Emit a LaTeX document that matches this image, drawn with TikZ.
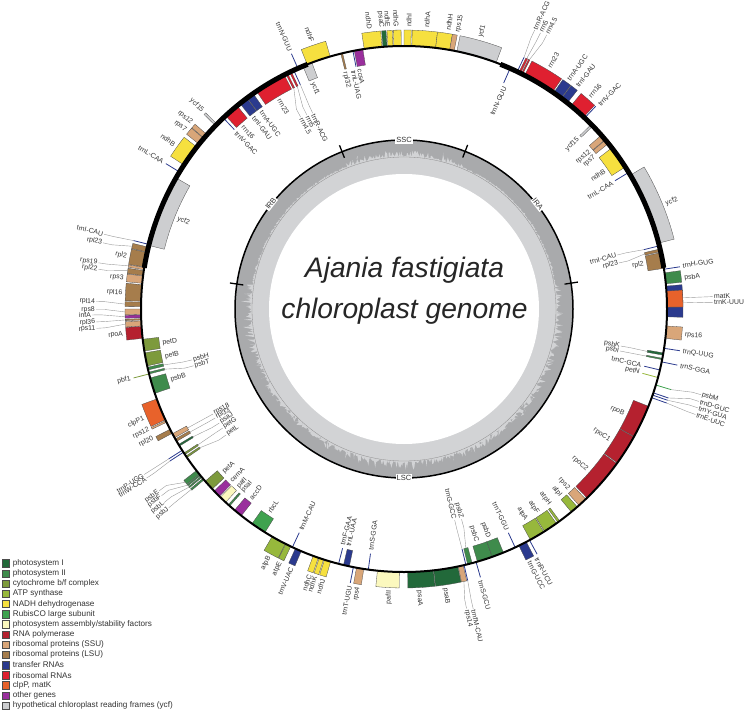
\documentclass[tikz,border=0pt]{standalone}
\usepackage{fontspec}
\setmainfont{Liberation Sans}
\usepackage{tikz}
\usetikzlibrary{positioning}
\usepackage{xcolor}
\definecolor{GenePsOne}{HTML}{22693A}
\definecolor{GenePsTwo}{HTML}{3F8B4C}
\definecolor{GeneCyt}{HTML}{7D9A3C}
\definecolor{GeneAtp}{HTML}{97B83C}
\definecolor{GeneNadh}{HTML}{F6E03F}
\definecolor{GeneRub}{HTML}{3FA24F}
\definecolor{GeneAsm}{HTML}{FBF8BE}
\definecolor{GeneRnap}{HTML}{B5212F}
\definecolor{GeneSsu}{HTML}{D9A679}
\definecolor{GeneLsu}{HTML}{A67D4C}
\definecolor{GeneTrna}{HTML}{2B3A8E}
\definecolor{GeneRrna}{HTML}{DF2030}
\definecolor{GeneClp}{HTML}{E8622B}
\definecolor{GeneOth}{HTML}{9A2F9D}
\definecolor{GeneYcf}{HTML}{CDCED0}
\definecolor{GcDark}{HTML}{A9AAAC}
\definecolor{GcLight}{HTML}{D2D3D5}
\definecolor{LabInk}{HTML}{333333}
\tikzset{
  genebox/.style={draw=black!70,line width=0.3pt},
  genetick/.style={line width=0.8pt},
  leader/.style={draw=black!40,line width=0.4pt},
  gentxt/.style={font=\fontsize{6.9}{8}\selectfont,text=LabInk,inner sep=1pt},
  outlab/.code={\pgfmathsetmacro\labcos{cos(#1)}\ifdim\labcos pt<0pt \tikzset{rotate=#1+180,anchor=east}\else\tikzset{rotate=#1,anchor=west}\fi},
  inlab/.code={\pgfmathsetmacro\labcos{cos(#1)}\ifdim\labcos pt<0pt \tikzset{rotate=#1+180,anchor=west}\else\tikzset{rotate=#1,anchor=east}\fi},
  regionlab/.style={font=\fontsize{7.5}{9}\selectfont,text=LabInk,fill=white,inner sep=1pt},
  legbox/.style={draw=black!70,line width=0.4pt,minimum size=7.4pt,inner sep=0pt},
  legtxt/.style={font=\fontsize{8.15}{9}\selectfont,text=LabInk,inner sep=0pt}
}
\begin{document}
\begin{tikzpicture}[x=1pt,y=1pt]
  \useasboundingbox (0,0) rectangle (745,-712);
  \begin{scope}[shift={(404,-309)}]
    % GC plot
    \pgfmathsetseed{11}
    \fill[GcDark] (0,0) circle[radius=169];
    \fill[GcLight] plot[domain=0:360,samples=1200] (\x:{151+((\x>9&&\x<68)||(\x>112&&\x<171)?1+2.5*rnd:1+rnd*rnd*11)}) -- cycle;
    \draw[black!45,line width=0.3pt] (0,0) circle[radius=152];
    \fill[white] (0,0) circle[radius=135];
    \draw[black,line width=1.5pt] (0,0) circle[radius=169];
    \foreach \ta in {8.8,68.8,111.5,171.5}{\draw[black,line width=1.3pt] (\ta:162.5) -- (\ta:176);}
    \node[regionlab] (ssc) at (90:169) {SSC};
    \node[regionlab] (lsc) at (270:169) {LSC};
    \node[regionlab,rotate=-52] (ira) at (38.1:170) {IRA};
    \node[regionlab,rotate=52] (irb) at (141.6:170) {IRB};
    \node[font=\fontsize{28.2}{41}\selectfont\itshape,text=black!85,align=center] (title) at (0.5,18) {Ajania fastigiata\\chloroplast genome};
    % genes outside the ring
    \foreach \ta/\tb/\col in {94.8/98.7/GeneNadh,93.7/94.6/GenePsOne,92.4/93.5/GeneNadh,90.6/92.2/GeneNadh,88.5/90/GeneNadh,83.1/88.3/GeneNadh,80/83.1/GeneNadh,79/80/GeneSsu,69.5/78.4/GeneYcf,106.3/111.6/GeneNadh,
      55.6/62.7/GeneRrna,63.2/63.5/GeneRrna,63.7/64.1/GeneRrna,53.3/55.3/GeneTrna,51.6/53.2/GeneTrna,46.9/50.6/GeneRrna,135.3/135.8/GeneYcf,138.5/139.5/GeneSsu,139.6/141.2/GeneSsu,142/146.8/GeneNadh,14.5/30.6/GeneYcf,
      5.5/7.9/GenePsTwo,-1.7/5/GeneTrna,0.4/3.9/GeneClp,-6.4/-3.7/GeneSsu,166.4/167.5/GeneLsu,167.6/170.8/GeneLsu,170.9/171.4/GeneSsu,171.6/172.7/GeneLsu,172.8/174.4/GeneSsu,174.7/178.3/GeneLsu,178.5/179.5/GeneLsu,
      180/181.2/GeneSsu,181.3/181.9/GeneOth,182.1/182.4/GeneLsu,182.6/183.7/GeneSsu,183.8/186.4/GeneRnap,200/204.9/GeneClp,205.1/205.5/GeneSsu,207.2/208.2/GeneLsu,217.9/218.9/GenePsTwo,219/219.3/GenePsTwo,219.5/219.8/GenePsTwo,220.1/220.5/GenePsTwo,
      239.9/243.2/GeneAtp,243.3/244.5/GeneAtp,245.6/247/GeneTrna,249.8/251/GeneNadh,251.2/252.2/GeneNadh,252.4/253.8/GeneNadh,259.6/261.2/GeneSsu,264.2/269/GeneAsm,270.8/276.4/GenePsOne,276.5/281.8/GenePsOne,281.9/283/GeneSsu,295.9/297.7/GeneTrna}{
      \draw[genebox,fill=\col] (\ta:263) arc[start angle=\ta,end angle=\tb,radius=263] -- (\tb:279) arc[start angle=\tb,end angle=\ta,radius=279] -- cycle;}
    % genes inside the ring
    \foreach \ta/\tb/\col in {103.5/103.9/GeneLsu,99/100.9/GeneOth,110.5/112.6/GeneYcf,117.1/124.1/GeneRrna,116.3/116.7/GeneRrna,115.4/115.8/GeneRrna,125/126.6/GeneTrna,126.7/128.6/GeneTrna,129.4/132.7/GeneRrna,150.1/166/GeneYcf,
      186.6/189.2/GeneCyt,189.6/192.5/GeneCyt,192.8/193.4/GenePsTwo,193.9/194.3/GenePsTwo,195.2/198.7/GenePsTwo,208.3/209.3/GeneSsu,209.6/210.2/GeneLsu,211/211.4/GenePsOne,213.2/213.6/GeneCyt,214/214.4/GeneCyt,
      220.9/223.2/GeneCyt,223.8/225.4/GeneOth,225.7/227.3/GeneAsm,228.1/228.5/GenePsTwo,229.9/231.8/GeneOth,234.7/238.1/GeneRub,256.7/258/GeneTrna,284/285/GenePsTwo,286.2/289.6/GenePsTwo,289.6/292.2/GenePsTwo,
      298.7/302.1/GeneAtp,302.3/305.4/GeneAtp,305.8/306.3/GeneAtp,309.5/311.2/GeneAtp,311.7/313.7/GeneSsu,314.1/324/GeneRnap,324.2/330.9/GeneRnap,331/338.3/GeneRnap,349.9/350.4/GenePsOne,348.9/349.2/GenePsTwo,
      44.1/44.6/GeneYcf,40.1/41.4/GeneSsu,39/40/GeneSsu,32.7/37.8/GeneNadh,12.6/13.2/GeneLsu,8.9/12.4/GeneLsu}{
      \draw[genebox,fill=\col] (\ta:263) arc[start angle=\ta,end angle=\tb,radius=263] -- (\tb:247) arc[start angle=\tb,end angle=\ta,radius=247] -- cycle;}
    % single line genes
    \foreach \ta/\col in {113.8/GeneTrna,148.6/GeneTrna,165.8/GeneTrna,212.5/GeneTrna,213/GeneTrna,258.9/GeneTrna,283.2/GeneTrna,285.9/GeneTrna,298.5/GeneTrna,340.3/GeneTrna,340.9/GeneTrna,341.4/GeneTrna,343.2/GeneRub,348.4/GeneTrna,351.4/GeneTrna,8.7/GeneTrna,46.6/GeneTrna,64.5/GeneTrna,194.3/GeneCyt}{
      \draw[genetick,draw=\col] (\ta:263) -- (\ta:279);}
    \foreach \ta/\col in {66.2/GeneTrna,101.2/GeneTrna,114.8/GeneTrna,133.4/GeneTrna,244.9/GeneTrna,255.6/GeneTrna,262.2/GeneTrna,283.6/GeneTrna,295/GeneTrna,344.9/GeneAtp,346.6/GeneTrna,31.3/GeneTrna,13.9/GeneTrna}{
      \draw[genetick,draw=\col] (\ta:263) -- (\ta:247);}
    % the ring
    \draw[black,line width=2pt] (0,0) circle[radius=263];
    \draw[black,line width=5pt] (9:263) arc[start angle=9,end angle=68.5,radius=263];
    \draw[black,line width=5pt] (111.5:263) arc[start angle=111.5,end angle=171,radius=263];
    % labels next to their gene
    \foreach \ang/\txt [count=\k] in {97/ndhD,94.6/psaC,93.3/ndhE,91.6/ndhG,89/ndhI,85.4/ndhA,81/ndhH,79/rps15,74.3/ycf1,109/ndhF,113.8/trnN-GUU,135.5/ycf15,138.8/rps12,140.7/rps7,144.4/ndhB,148.6/trnL-CAA,
      169.2/rpl2,173.7/rps3,176.7/rpl16,185.1/rpoA,194.3/pbf1,202.9/clpP1,205.3/rps12,207.2/rpl20,241.5/atpB,244/atpE,246.5/trnV-UAC,250.5/ndhC,251.6/ndhK,253.3/ndhJ,258.9/trnT-UGU,260.6/rps4,267/pafII,273.1/psaA,278.4/psaB,
      285.7/trnS-GCU,296.4/trnG-UCC,298/trnR-UCU,348.4/trnS-GGA,351.3/trnQ-UUG,354.7/rps16,6.3/psbA,8.8/trnH-GUG,21.9/ycf2,46.2/trnV-GAC,48.8/rrn16,52.1/trnI-GAU,54.3/trnA-UGC,59/rrn23}{
      \node[gentxt,outlab=\ang] (lo\k) at (\ang:281) {\txt};}
    \foreach \ang/\txt [count=\k] in {65.6/trnN-GUU,100.5/ccsA,102/trnL-UAG,104/rpl32,112/ycf1,120.8/rrn23,125.8/trnA-UGC,128.1/trnI-GAU,131.4/rrn16,133.6/trnV-GAC,158.2/ycf2,188/petD,191.3/petB,196.9/psbB,
      222.2/petA,224.8/cemA,227.1/pafI,228.5/psaI,231.1/accD,236.5/rbcL,245/trnM-CAU,255.4/trnF-GAA,256.8/trnL-UAA,262.2/trnS-GGA,287.3/psbC,290.3/psbD,295/trnT-GGU,300/atpA,303.2/atpF,306.7/atpH,310/atpI,312.5/rps2,
      318.7/rpoC2,327.6/rpoC1,334.5/rpoB,344.9/petN,346.6/trnC-GCA,10.7/rpl2,31.2/trnL-CAA,34.6/ndhB,38.6/rps7,40.3/rps12,44.4/ycf15}{
      \node[gentxt,inlab=\ang] (li\k) at (\ang:245) {\txt};}
    % labels pulled away with a leader
    \foreach \ga/\la/\rd/\txt [count=\k] in {64.5/64.9/308/trnR-ACG,63.9/63.7/308/rrn5,63.3/62.5/309/rrn4.5,165.8/166/309/trnI-CAU,167/167.6/308/rpl23,171.1/171.4/309/rps19,172.1/172.6/308/rpl22,179/178.6/308/rpl14,180.6/180.1/308/rps8,181.6/181.1/312/infA,
      182.25/182.4/308/rpl36,183.1/183.6/308/rps11,212.5/212.5/308/trnP-UGG,213/213.3/308/trnW-CCA,218.4/216.6/305/psbE,219.15/217.6/306/psbF,219.65/218.9/308/psbL,220.3/220.2/308/psbJ,282.4/281.8/306/rps14,283.2/283/308/trnfM-CAU,
      340.3/340.1/310/trnE-UUC,340.9/341.4/310/trnY-GUA,341.4/342.6/309/trnD-GUC,343.2/343.9/309/psbM,2.3/2.3/309/matK,1.4/1.2/309/trnK-UUU}{
      \coordinate (go\k) at (\ga:279);
      \coordinate (bo\k) at (\la:{\rd-9});
      \node[gentxt,outlab=\la] (fo\k) at (\la:\rd) {\txt};
      \draw[leader] (go\k) -- (bo\k) -- (fo\k);}
    \foreach \ga/\la/\rd/\txt [count=\k] in {12.9/12.1/220/rpl23,13.9/14.2/220/trnI-CAU,114.8/115/216/trnR-ACG,115.6/116.6/217/rrn5,116.5/118.3/218/rrn4.5,193.1/193.5/218/psbH,194.1/195.1/218/psbT,208.8/208.8/218/rps18,209.9/210/218/rpl33,
      211.2/211.7/217/psaJ,213.4/213.3/217/petG,214.2/215.3/218/petL,283.6/283.5/217/trnG-GCC,284.5/285.3/218/psbZ,349/349/220/psbI,350.1/350.3/220/psbK}{
      \coordinate (gi\k) at (\ga:247);
      \coordinate (bi\k) at (\la:{\rd+9});
      \node[gentxt,inlab=\la] (fi\k) at (\la:\rd) {\txt};
      \draw[leader] (gi\k) -- (bi\k) -- (fi\k);}
  \end{scope}
  % legend
  \foreach \col/\txt [count=\k] in {GenePsOne/photosystem I,GenePsTwo/photosystem II,GeneCyt/{cytochrome b/f complex},GeneAtp/ATP synthase,GeneNadh/NADH dehydrogenase,GeneRub/RubisCO large subunit,GeneAsm/{photosystem assembly/stability factors},GeneRnap/RNA polymerase,
    GeneSsu/ribosomal proteins (SSU),GeneLsu/ribosomal proteins (LSU),GeneTrna/transfer RNAs,GeneRrna/ribosomal RNAs,GeneClp/{clpP, matK},GeneOth/other genes,GeneYcf/hypothetical chloroplast reading frames (ycf)}{
    \node[legbox,fill=\col] (key\k) at (5.8,{-563.3-10.17*(\k-1)}) {};
    \node[legtxt,right=3pt of key\k] (leg\k) {\txt};}
\end{tikzpicture}
\end{document}
